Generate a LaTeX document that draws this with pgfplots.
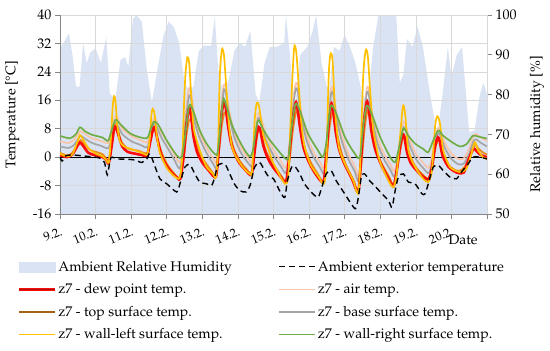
\documentclass[border=0pt]{standalone}
\usepackage[T1]{fontenc}
\usepackage{mathpazo}
\usepackage{textcomp}
\usepackage{pgfplots}
\pgfplotsset{compat=1.18}
\definecolor{rhblue}{RGB}{218,227,243}
\definecolor{dewred}{RGB}{255,10,10}
\definecolor{dewdark}{RGB}{170,20,10}
\definecolor{airc}{RGB}{248,196,170}
\definecolor{topc}{RGB}{235,140,30}
\definecolor{basec}{RGB}{165,165,165}
\definecolor{wlc}{RGB}{255,192,0}
\definecolor{wrc}{RGB}{112,173,71}
\definecolor{gridc}{RGB}{217,217,217}
\definecolor{axc}{RGB}{134,134,134}
\pgfplotsset{every axis/.append style={font=\fontsize{14}{17}\selectfont, /pgf/number format/assume math mode=true}}
\begin{document}
\begin{tikzpicture}
\useasboundingbox (-60pt,-137pt) rectangle (490pt,214pt);
% ---------- right axis : relative humidity ----------
\begin{axis}[at={(0,0)}, anchor=south west, scale only axis, width=427pt, height=199pt,
  xmin=0, xmax=12, ymin=50, ymax=100,
  axis y line*=right, axis x line=none,
  ytick={50,60,...,100},
  tick align=outside, major tick length=5pt, tick style={axc, line width=0.6pt},
  axis line style={axc, line width=0.8pt},
  ylabel={Relative humidity [\%]},
  ylabel style={at={(axis description cs:1.117,0.45)}, anchor=center},
]
\addplot[fill=rhblue, draw=none] coordinates {
(0.00,91.5) (0.10,93) (0.25,95.4) (0.35,90) (0.45,82) (0.55,82) (0.65,93) (0.75,88) (0.85,90.5)
(1.00,91.7) (1.15,88) (1.30,94.5) (1.40,80.4) (1.55,78.6) (1.70,88.7) (1.83,89.5) (1.92,87)
(2.05,99) (2.15,100) (2.30,98.3) (2.43,87) (2.58,78) (2.75,87) (2.90,94.5)
(3.05,98.3) (3.20,97) (3.35,93) (3.50,83) (3.62,81) (3.75,82) (3.90,91)
(4.05,92.3) (4.25,92.3) (4.35,99.6) (4.45,86) (4.60,80) (4.75,84) (4.90,91)
(5.05,93) (5.20,92) (5.35,96) (5.50,80) (5.60,78) (5.75,88) (5.90,92)
(6.10,92) (6.30,93) (6.35,100) (6.45,91) (6.60,76) (6.75,90) (6.95,92)
(7.10,96) (7.20,100) (7.35,88) (7.55,80) (7.70,92) (7.85,91)
(8.00,95) (8.15,92) (8.30,88) (8.50,80) (8.65,78) (8.80,92) (8.95,100)
(9.20,100) (9.45,100) (9.55,83) (9.65,85) (9.75,94) (9.90,92)
(10.05,97) (10.20,92) (10.40,80) (10.60,70) (10.75,80) (10.90,92)
(11.00,84.5) (11.15,90) (11.30,92) (11.50,70.5) (11.65,71) (11.80,80) (11.90,83) (12.00,80)
} \closedcycle;
\end{axis}
% ---------- left axis : temperatures ----------
\begin{axis}[at={(0,0)}, anchor=south west, scale only axis, width=427pt, height=199pt,
  xmin=0, xmax=12, ymin=-16, ymax=40,
  axis x line*=bottom, axis y line*=left,
  xtick={0,...,12},
  xticklabels={9.2.,10.2.,11.2.,12.2.,13.2.,14.2.,15.2.,16.2.,17.2.,18.2.,19.2.,20.2.,{}},
  xticklabel style={rotate=22, anchor=north east, font=\fontsize{12.5}{15}\selectfont, xshift=-2pt, yshift=-6pt, inner sep=1pt},
  ytick={-16,-8,...,40},
  grid=major, major grid style={gridc, line width=0.6pt},
  tick align=outside, major tick length=5pt, tick style={axc, line width=0.6pt},
  axis line style={axc, line width=0.8pt},
  extra y ticks={0}, extra y tick labels={},
  extra y tick style={major grid style={black, line width=0.7pt}, major tick length=0pt},
  ylabel={Temperature [\textdegree C]},
  ylabel style={at={(axis description cs:-0.112,0.5)}, anchor=center},
  xlabel={Date},
  xlabel style={at={(axis description cs:0.944,-0.131)}, anchor=center},
  legend columns=2,
  legend cell align=left,
  legend style={at={(axis description cs:-0.1,-0.225)}, anchor=north west, draw=none, fill=none,
    inner sep=0pt, row sep=7pt, font=\fontsize{14}{17}\selectfont},
  legend image code/.code={\draw[#1] (0pt,0pt) -- (36pt,0pt);},
  every axis plot/.append style={smooth, tension=0.45},
]
% legend entries in the reference order
\addlegendimage{legend image code/.code={\fill[rhblue] (0pt,-5pt) rectangle (36pt,5pt);}}
\addlegendentry{\makebox[218pt][l]{Ambient Relative Humidity}}
\addlegendimage{black, line width=1.3pt, dash pattern=on 6pt off 4pt}
\addlegendentry{Ambient exterior temperature}
\addlegendimage{legend image code/.code={\draw[dewred, line width=3pt] (0pt,0pt) -- (36pt,0pt); \draw[dewdark, line width=1.2pt] (0pt,0pt) -- (36pt,0pt);}}
\addlegendentry{\makebox[218pt][l]{z7 - dew point temp.}}
\addlegendimage{airc, line width=1.5pt}
\addlegendentry{z7 - air temp.}
\addlegendimage{topc!70!black, line width=1.5pt}
\addlegendentry{\makebox[218pt][l]{z7 - top surface temp.}}
\addlegendimage{basec, line width=1.5pt}
\addlegendentry{z7 - base surface temp.}
\addlegendimage{wlc, line width=1.5pt}
\addlegendentry{\makebox[218pt][l]{z7 - wall-left surface temp.}}
\addlegendimage{wrc, line width=1.5pt}
\addlegendentry{z7 - wall-right surface temp.}
% air temperature
\addplot[forget plot, airc, line width=1.7pt] coordinates {
(0.00,4.4) (0.25,4.0) (0.40,5) (0.50,6.5) (0.58,7.3) (0.70,6.5) (0.90,5.3) (1.15,4.6) (1.35,4.0)
(1.45,7) (1.55,11.5) (1.62,11) (1.75,8) (2.00,6) (2.25,4.8) (2.45,4.2)
(2.55,7.5) (2.64,11) (2.72,10) (2.85,7) (3.00,4.5) (3.20,1) (3.36,-1.5)
(3.45,3) (3.53,12) (3.62,19.2) (3.68,18.5) (3.76,13) (3.90,7.5) (4.10,3) (4.30,-0.3) (4.40,-1.5)
(4.47,5) (4.53,14) (4.60,20.3) (4.66,19.5) (4.75,13.5) (4.90,7) (5.10,2.5) (5.30,-0.5) (5.40,-1.2)
(5.47,4.5) (5.55,11.5) (5.60,12.3) (5.68,10) (5.80,6) (6.00,2) (6.20,-1) (6.35,-3)
(6.44,2.5) (6.53,14) (6.62,20.5) (6.68,20) (6.77,13.5) (6.92,6.5) (7.10,2) (7.30,-1.3) (7.42,-3)
(7.50,3.5) (7.57,13.5) (7.62,19.3) (7.68,19) (7.77,12.5) (7.92,6) (8.10,1) (8.28,-2.5) (8.39,-5.3)
(8.47,2.5) (8.55,12.5) (8.62,19.3) (8.68,19) (8.77,12.5) (8.92,5.5) (9.10,1) (9.28,-2) (9.40,-4)
(9.50,0.5) (9.60,7.5) (9.66,10) (9.72,9) (9.82,5) (10.00,1) (10.20,-1.5) (10.37,-3)
(10.47,1) (10.57,6.5) (10.63,8.2) (10.70,7.2) (10.82,4) (11.00,1) (11.20,-0.5) (11.35,-0.3)
(11.50,2.5) (11.62,6) (11.70,6.5) (11.80,5.7) (12.00,4.5)
};
% base surface temperature
\addplot[forget plot, basec, line width=1.7pt] coordinates {
(0.00,3.0) (0.25,2.6) (0.40,3.5) (0.50,5) (0.58,6.0) (0.70,5.2) (0.90,4) (1.15,3.2) (1.35,2.5)
(1.45,5) (1.55,9.5) (1.62,9) (1.75,6.5) (2.00,4.5) (2.25,3.5) (2.45,2.8)
(2.55,6) (2.64,9.5) (2.72,8.5) (2.85,5.5) (3.00,3) (3.20,-0.5) (3.36,-3.2)
(3.45,1) (3.53,10) (3.62,17) (3.68,16.5) (3.76,11) (3.90,6) (4.10,1.5) (4.30,-1.8) (4.40,-3)
(4.47,3) (4.53,12) (4.60,18.8) (4.66,18) (4.75,12) (4.90,5.5) (5.10,1) (5.30,-1.8) (5.40,-2.5)
(5.47,3) (5.55,10) (5.60,11) (5.68,8.5) (5.80,4.5) (6.00,0.5) (6.20,-2.5) (6.35,-4.5)
(6.44,1) (6.53,12) (6.62,19) (6.68,18.5) (6.77,12) (6.92,5) (7.10,0.5) (7.30,-2.8) (7.42,-4.5)
(7.50,2) (7.57,12) (7.62,18) (7.68,17.5) (7.77,11) (7.92,4.5) (8.10,-0.5) (8.28,-4) (8.39,-6.8)
(8.47,1) (8.55,11) (8.62,18) (8.68,17.5) (8.77,11) (8.92,4) (9.10,-0.5) (9.28,-3.5) (9.40,-5.5)
(9.50,-1) (9.60,6) (9.66,8.5) (9.72,7.5) (9.82,3.5) (10.00,-0.5) (10.20,-3) (10.37,-4.5)
(10.47,-0.5) (10.57,5) (10.63,6.8) (10.70,5.8) (10.82,2.5) (11.00,-0.5) (11.20,-2) (11.35,-1.8)
(11.50,1) (11.62,4.5) (11.70,5) (11.80,4.2) (12.00,3)
};
% top surface temperature
\addplot[forget plot, topc, line width=1.8pt] coordinates {
(0.00,1.2) (0.20,0.5) (0.35,1.2) (0.48,3.5) (0.58,4.8) (0.70,3.5) (0.85,2) (1.00,1.5) (1.20,0.8) (1.37,-1.0)
(1.45,3) (1.55,9) (1.62,8) (1.72,4.5) (1.90,2.5) (2.20,1.8) (2.45,1.2)
(2.55,5) (2.64,8.5) (2.72,6) (2.85,1.5) (3.00,-1.8) (3.20,-4.5) (3.36,-5.8)
(3.47,-1) (3.55,6) (3.63,10.5) (3.70,10) (3.78,5.5) (3.90,1.5) (4.05,-1) (4.25,-3.8) (4.38,-5.0)
(4.46,1) (4.55,9) (4.62,12.5) (4.68,12) (4.76,7.5) (4.88,2.5) (5.05,-1) (5.25,-3.5) (5.38,-4.5)
(5.46,0.5) (5.55,6.5) (5.61,8) (5.68,5.5) (5.80,1.5) (6.00,-2) (6.20,-5) (6.35,-6.8)
(6.45,-1) (6.55,8) (6.64,13) (6.70,12.5) (6.78,7.5) (6.90,2) (7.05,-1.5) (7.25,-4.8) (7.40,-6.8)
(7.49,-1) (7.57,8) (7.65,12.5) (7.71,11.5) (7.80,6) (7.92,1) (8.05,-2.5) (8.25,-6.5) (8.38,-9.5)
(8.47,-2) (8.56,8) (8.64,13) (8.70,12) (8.78,6.5) (8.90,1.5) (9.05,-2) (9.25,-5.5) (9.38,-8)
(9.47,-3.5) (9.57,2.5) (9.66,6) (9.72,5) (9.82,1) (9.98,-2.5) (10.20,-5) (10.36,-6)
(10.46,-2.5) (10.56,3) (10.64,5) (10.70,4) (10.80,0.5) (10.95,-2.5) (11.15,-3.8) (11.30,-3.5)
(11.45,-1.5) (11.58,2) (11.66,3.5) (11.75,2.5) (11.90,1.2) (12.00,0.8)
};
% dew point temperature
\addplot[forget plot, dewred, line width=2.6pt] coordinates {
(0.00,0.6) (0.20,0.0) (0.35,0.8) (0.48,3) (0.56,4.1) (0.65,3.2) (0.80,1.2) (1.00,0.5) (1.20,0) (1.30,-0.8) (1.37,-1.7)
(1.45,3) (1.52,8.0) (1.57,8.4) (1.65,6) (1.75,3) (1.90,1.5) (2.10,1.0) (2.30,0.6) (2.45,0.5)
(2.55,5) (2.62,8.0) (2.67,8.1) (2.75,4.5) (2.85,0.5) (3.00,-2.5) (3.15,-4.5) (3.30,-5.8) (3.38,-6.1)
(3.47,0) (3.55,9) (3.63,13.8) (3.68,12) (3.75,6) (3.85,1.5) (4.00,-1.5) (4.20,-4) (4.38,-5.5)
(4.46,2) (4.53,11) (4.60,15.5) (4.65,14.5) (4.72,9) (4.82,3.5) (5.00,-1) (5.20,-3.5) (5.38,-5)
(5.45,0) (5.52,6) (5.58,8.5) (5.63,7.5) (5.72,3) (5.85,-0.5) (6.00,-3) (6.20,-5.5) (6.35,-7)
(6.43,-1) (6.52,9) (6.62,15.3) (6.67,14) (6.75,8) (6.85,2.5) (7.00,-1.5) (7.20,-5) (7.40,-7)
(7.47,-1) (7.55,9) (7.62,15) (7.67,13.5) (7.75,7) (7.85,2) (8.00,-2) (8.20,-6) (8.38,-9.8)
(8.45,-2) (8.53,9) (8.62,15.5) (8.67,14) (8.75,7.5) (8.85,2.5) (9.00,-1.5) (9.20,-5.5) (9.37,-8.2)
(9.46,-4) (9.56,3) (9.63,6.5) (9.68,5.5) (9.75,1.5) (9.85,-1.5) (10.00,-3.5) (10.20,-5.5) (10.36,-6.2)
(10.45,-3) (10.54,3) (10.62,5.6) (10.67,4.5) (10.75,0.5) (10.90,-2.5) (11.05,-3.8) (11.20,-4.5) (11.35,-4.3)
(11.45,-1.5) (11.55,1) (11.63,2.4) (11.70,1.8) (11.80,0.8) (11.90,0.3) (12.00,0)
};
% wall-left surface temperature
\addplot[forget plot, wlc, line width=1.7pt] coordinates {
(0.00,0.9) (0.20,0.2) (0.35,0.8) (0.48,4) (0.56,6.2) (0.65,5) (0.80,2.5) (1.00,1.0) (1.20,0.2) (1.30,-0.8) (1.37,-1.4)
(1.43,5) (1.48,14) (1.52,17.2) (1.56,15.5) (1.61,9) (1.68,4.5) (1.80,3) (2.00,2.3) (2.30,1.2) (2.45,0.8)
(2.52,5) (2.57,12) (2.61,13.6) (2.66,12) (2.72,6) (2.80,1.5) (2.90,-1) (3.00,-3) (3.15,-4.8) (3.33,-6.1)
(3.39,-4.7) (3.44,1) (3.49,16) (3.53,24) (3.58,28.1) (3.63,26.5) (3.69,17) (3.76,8) (3.88,3.5) (3.98,0.5) (4.12,-2.8) (4.30,-4.7) (4.38,-5.6)
(4.44,1.9) (4.49,22.5) (4.55,30.3) (4.61,28.5) (4.67,20) (4.74,10) (4.82,3.5) (4.95,0) (5.14,-2.8) (5.33,-4.7)
(5.40,-3.8) (5.47,10.3) (5.53,15.3) (5.59,14.5) (5.65,10.5) (5.72,6) (5.84,2.8) (6.00,-1.8) (6.23,-6.1) (6.34,-7.5)
(6.42,-4.7) (6.51,17.8) (6.58,30.8) (6.64,29.6) (6.71,20) (6.78,10) (6.86,3.5) (7.03,-1.9) (7.27,-5.6) (7.41,-7.5)
(7.48,-2.8) (7.55,22.5) (7.60,29.0) (7.66,27.2) (7.73,13.1) (7.84,2.8) (8.01,-1.9) (8.24,-6.6) (8.37,-10.3)
(8.43,-3.8) (8.52,22.5) (8.59,30.0) (8.65,28.5) (8.72,18) (8.80,8) (8.90,2.5) (9.00,-1.5) (9.23,-6.6) (9.37,-8.4)
(9.46,-4.7) (9.58,8.4) (9.64,14.5) (9.70,12.2) (9.79,1.9) (9.98,-2.8) (10.21,-6.1) (10.35,-7.0)
(10.45,-3.8) (10.54,8.4) (10.60,11.5) (10.68,9.4) (10.77,1.9) (10.96,-2.8) (11.24,-4.2) (11.42,-3.3)
(11.56,0.9) (11.66,4.2) (11.75,1.9) (11.89,0) (12.00,-0.5)
};
% wall-right surface temperature
\addplot[forget plot, wrc, line width=1.7pt] coordinates {
(0.00,6.0) (0.28,5.3) (0.45,6.5) (0.56,8.4) (0.70,7.3) (0.90,6.3) (1.20,5.5) (1.35,4.6)
(1.45,7.5) (1.56,10.5) (1.70,9.2) (2.00,6.5) (2.43,5.3)
(2.55,8) (2.64,10.0) (2.75,9.3) (2.85,7.5) (3.00,4.7) (3.28,0.5) (3.42,0)
(3.51,5.6) (3.63,14.5) (3.74,13.1) (3.93,7.5) (4.12,3.8) (4.35,0.9)
(4.44,1.9) (4.58,15.9) (4.67,14.5) (4.86,8.4) (5.14,2.8) (5.33,0.2)
(5.42,1.9) (5.56,10.3) (5.70,8.0) (5.85,5.5) (6.00,3.5) (6.32,-0.3)
(6.42,0) (6.51,8.4) (6.62,15) (6.74,13.1) (6.97,6.6) (7.25,1.9) (7.39,0)
(7.48,3.8) (7.60,14.1) (7.73,13.1) (8.01,5.6) (8.29,0.9) (8.43,0)
(8.52,8.4) (8.62,14.5) (8.76,12.2) (9.00,5.6) (9.28,0) (9.42,-1.4)
(9.51,1.9) (9.65,8.0) (9.79,6.0) (9.98,3.8) (10.21,2.3) (10.35,1.4)
(10.49,4.7) (10.63,7.5) (10.77,6.0) (11.05,4.0) (11.24,3.0) (11.42,3.6)
(11.60,6.0) (11.75,5.8) (12.00,5.2)
};
% ambient exterior temperature
\addplot[forget plot, black, line width=1.4pt, dash pattern=on 6pt off 4pt] coordinates {
(0.00,0) (0.06,-1.1) (0.15,0.3) (0.30,0.6) (0.50,0.5) (0.80,0.2) (1.10,-0.2) (1.25,-1.5) (1.33,-5.0) (1.43,-0.2)
(1.60,-0.5) (1.90,-0.6) (2.10,-0.8) (2.30,-1.5) (2.44,-0.5) (2.53,0.9) (2.72,-4) (2.81,-6.1)
(3.00,-7.5) (3.28,-9.8) (3.37,-7.5) (3.51,-2.8) (3.65,-2.1) (3.79,-4.7) (3.93,-7.0)
(4.12,-7.5) (4.26,-8.0) (4.35,-5.6) (4.44,-2.3) (4.63,-1.9) (4.77,-4.7) (4.90,-7.5)
(5.05,-9.4) (5.23,-9.8) (5.34,-8) (5.47,-2.8) (5.60,-1.4) (5.70,-2.8) (5.84,-5.2)
(6.00,-6.1) (6.19,-9.8) (6.32,-11.3) (6.39,-6.6) (6.51,-2.8) (6.60,-2.6) (6.74,-4.7) (6.87,-7.5)
(7.06,-9.8) (7.25,-11.3) (7.36,-8.4) (7.48,-4.7) (7.62,-3.8) (7.76,-6.6)
(8.00,-10.3) (8.18,-13.1) (8.30,-14.5) (8.37,-12.2) (8.47,-5.6) (8.56,-4.7) (8.70,-6.6) (8.84,-8)
(9.00,-9.8) (9.23,-12.2) (9.33,-14.1) (9.42,-9.4) (9.51,-5.6) (9.65,-4.7) (9.79,-7.0) (9.98,-7.5)
(10.17,-10.3) (10.26,-10.3) (10.35,-7.5) (10.49,-2.8) (10.63,-2.3) (10.77,-3.8) (10.96,-5.6)
(11.14,-6.1) (11.28,-4.2) (11.47,-1.9) (11.60,0) (11.79,0) (12.00,-0.5)
};
\end{axis}
\end{tikzpicture}
\end{document}
